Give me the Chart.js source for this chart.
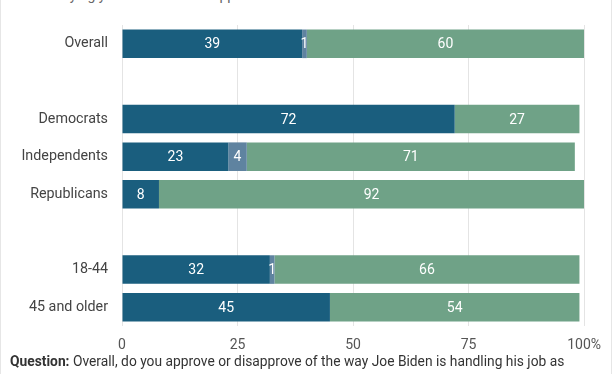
<!DOCTYPE html>
<html>
<head>
<meta charset="utf-8">
<script src="https://cdn.jsdelivr.net/npm/chart.js@4/dist/chart.umd.min.js"></script>
<style>
  html, body { margin: 0; padding: 0; background: #fff; }
  #wrap { position: relative; width: 610px; height: 374px; overflow: hidden;
          border-left: 1px solid #e6e6e6; border-right: 1px solid #e6e6e6;
          font-family: Roboto, "Noto Sans", sans-serif; }
  #sub { position: absolute; left: 54px; top: -13px; font-size: 14px; color: #666; white-space: nowrap; }
  #box { position: absolute; left: -1px; top: 0; width: 612px; height: 356px; }
  #note { position: absolute; left: 9px; top: 353px; font-size: 13.8px; color: #333; white-space: nowrap; }
</style>
</head>
<body>
<div id="wrap">
  <div id="sub">saying you somewhat disapprove</div>
  <div id="box"><canvas id="chart"></canvas></div>
  <div id="note"><b>Question:</b> Overall, do you approve or disapprove of the way Joe Biden is handling his job as</div>
</div>
<script>
// Categories (blank rows are spacers)
const groups = ['Overall', '', 'Democrats', 'Independents', 'Republicans', '', '18-44', '45 and older'];

// Series values (percent)
const approve    = [39, null, 72, 23, 8, null, 32, 45];
const neither    = [1, null, 0, 4, 0, null, 1, 0];
const disapprove = [60, null, 27, 71, 92, null, 66, 54];

const xTicks = [0, 25, 50, 75, 100];

const colors = {
  approve: '#1a5e7e',
  neither: '#5f83a0',
  disapprove: '#6fa287',
};

// draws the value inside each segment
const barLabels = {
  id: 'barLabels',
  afterDatasetsDraw(chart) {
    const ctx = chart.ctx;
    ctx.save();
    ctx.font = '14px Roboto, "Noto Sans", sans-serif';
    ctx.fillStyle = '#fff';
    ctx.textAlign = 'center';
    ctx.textBaseline = 'middle';
    chart.data.datasets.forEach((ds, i) => {
      chart.getDatasetMeta(i).data.forEach((bar, j) => {
        const v = ds.data[j];
        if (!v) return;
        const c = bar.getCenterPoint();
        ctx.fillText(String(v), c.x, c.y + 1);
      });
    });
    ctx.restore();
  }
};

new Chart(document.getElementById('chart'), {
  type: 'bar',
  data: {
    labels: groups,
    datasets: [
      { label: 'Approve', data: approve, backgroundColor: colors.approve },
      { label: 'Neither', data: neither, backgroundColor: colors.neither },
      { label: 'Disapprove', data: disapprove, backgroundColor: colors.disapprove },
    ],
  },
  options: {
    indexAxis: 'y',
    responsive: true,
    maintainAspectRatio: false,
    animation: false,
    layout: { padding: { top: 25, right: 27, left: 0, bottom: 0 } },
    datasets: { bar: { categoryPercentage: 0.76, barPercentage: 1 } },
    scales: {
      x: {
        stacked: true,
        min: 0,
        max: 100,
        afterBuildTicks: scale => { scale.ticks = xTicks.map(v => ({ value: v })); },
        afterFit: scale => { scale.height = 30; },
        border: { display: false },
        grid: { color: '#e4e4e4', drawTicks: false },
        ticks: {
          padding: 11,
          color: '#555',
          font: { family: 'Roboto', size: 14 },
          callback: v => v === 100 ? '100%' : v,
        },
      },
      y: {
        stacked: true,
        afterFit: scale => { scale.width = 122; },
        border: { display: false },
        grid: { display: false },
        ticks: {
          padding: 6,
          color: '#444',
          font: { family: 'Roboto', size: 14.3 },
        },
      },
    },
    plugins: {
      legend: { display: false },
      tooltip: { enabled: false },
    },
  },
  plugins: [barLabels],
});
</script>
</body>
</html>
